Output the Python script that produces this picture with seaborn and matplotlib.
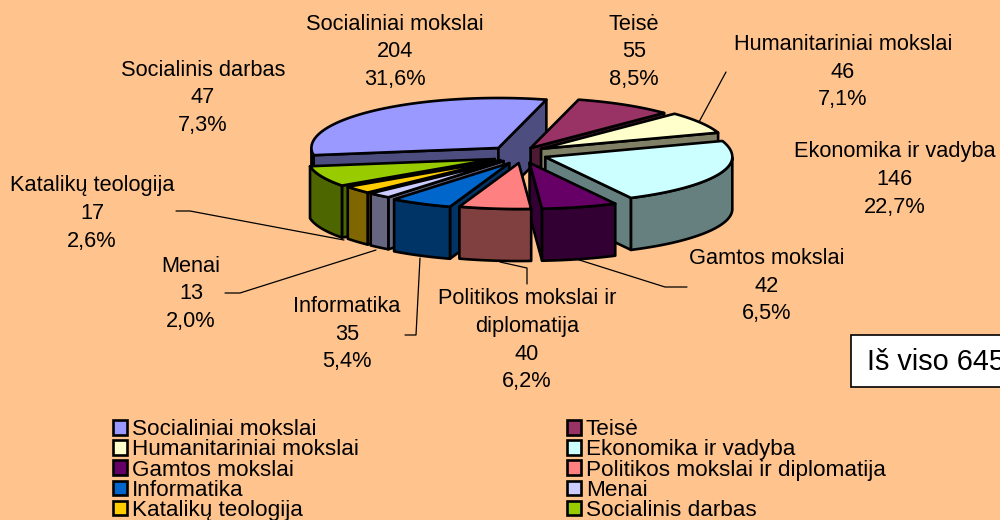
import numpy as np
import pandas as pd
import seaborn as sns
import matplotlib
matplotlib.use("Agg")
import matplotlib.pyplot as plt
from matplotlib.patches import Polygon, Rectangle, Patch

categories = ["Socialiniai mokslai", "Teisė", "Humanitariniai mokslai", "Ekonomika ir vadyba",
              "Gamtos mokslai", "Politikos mokslai ir diplomatija", "Informatika", "Menai",
              "Katalikų teologija", "Socialinis darbas"]
values = [204, 55, 46, 146, 42, 40, 35, 13, 17, 47]
percent_labels = ["31,6%", "8,5%", "7,1%", "22,7%", "6,5%", "6,2%", "5,4%", "2,0%", "2,6%", "7,3%"]
top_colors = ["#9999FF", "#993366", "#FFFFCC", "#CCFFFF", "#660066",
              "#FF8080", "#0066CC", "#CCCCFF", "#FFCC00", "#99CC00"]
total_label = "Iš viso 645"

df = pd.DataFrame({"category": categories, "value": values, "pct": percent_labels})

BG = "#FFC48E"
sns.set_theme(style="white", rc={"figure.facecolor": BG, "axes.facecolor": BG,
                                 "savefig.facecolor": BG, "text.color": "black"})
plt.rcParams["font.family"] = ["Liberation Sans", "DejaVu Sans"]
palette = sns.color_palette(top_colors)

fig = plt.figure(figsize=(10, 5.2), dpi=100)
ax = fig.add_axes([0, 0, 1, 1])
ax.set_xlim(0, 1000)
ax.set_ylim(520, 0)
ax.axis("off")

# projected pie geometry
CX, CY, RX, RY_BACK, RY_FRONT, DEPTH, EXPLODE, TILT = 517.5, 155, 187, 50, 46, 52, 30, 0.27
START = 261.0
LW = 1.9
# small per-slice offsets standing in for the original's perspective
NUDGE = {0: (1, -1), 1: (-2, 0), 2: (-2, -2), 3: (0, -1), 4: (4, 0), 5: (5, 0),
         6: (6, 1), 7: (6, 0), 8: (6, 0), 9: (5, 1)}

fractions = df["value"].to_numpy() / df["value"].sum()
edges = START + np.concatenate([[0], np.cumsum(fractions)]) * 360


def rim(angle):
    t = np.radians(angle)
    c = np.cos(t)
    ry = np.where(c > 0, RY_BACK, RY_FRONT)
    return RX * np.sin(t), -ry * c


def face(ax, pts, color, z):
    ax.add_patch(Polygon(pts, closed=True, facecolor=color, edgecolor="black",
                         linewidth=LW, joinstyle="round", zorder=z))


def draw_slice(i, z):
    a0, a1 = edges[i], edges[i + 1]
    mid = np.radians((a0 + a1) / 2)
    ox = CX + EXPLODE * np.sin(mid) + NUDGE[i][0]
    oy = CY - EXPLODE * TILT * np.cos(mid) + NUDGE[i][1]
    top = palette[i]
    side = tuple(c * 0.5 for c in top)
    th = np.linspace(a0, a1, 80)
    dx, dy = rim(th)
    px, py = ox + dx, oy + dy
    # radial walls
    if np.sin(np.radians(a0)) < 0:
        face(ax, [(ox, oy), (px[0], py[0]), (px[0], py[0] + DEPTH), (ox, oy + DEPTH)], side, z)
    if np.sin(np.radians(a1)) > 0:
        face(ax, [(ox, oy), (px[-1], py[-1]), (px[-1], py[-1] + DEPTH), (ox, oy + DEPTH)], side, z)
    # outer wall, front half only
    front = np.cos(np.radians(th)) < 0
    if front.any():
        fx, fy = px[front], py[front]
        pts = list(zip(fx, fy)) + list(zip(fx[::-1], fy[::-1] + DEPTH))
        face(ax, pts, side, z)
    face(ax, [(ox, oy)] + list(zip(px, py)), top, z + 0.5)


draw_order = [0, 1, 2, 3, 9, 8, 7, 6, 4, 5]
for z, i in enumerate(draw_order):
    draw_slice(i, 3 + z)

# data labels: centre x, first-line y
label_lines = {
    0: (["Socialiniai mokslai"], 395, 24),
    1: (["Teisė"], 634, 24),
    2: (["Humanitariniai mokslai"], 843, 45),
    3: (["Ekonomika ir vadyba"], 895, 152),
    4: (["Gamtos mokslai"], 767, 259),
    5: (["Politikos mokslai ir", "diplomatija"], 527, 299),
    6: (["Informatika"], 347, 307),
    7: (["Menai"], 191, 266),
    8: (["Katalikų teologija"], 92, 186),
    9: (["Socialinis darbas"], 203, 70),
}
LINE = 27.5
for i, (names, x, y) in label_lines.items():
    lines = names + [str(df.value[i]), df.pct[i]]
    for k, s in enumerate(lines):
        ax.text(x, y + k * LINE, s, ha="center", va="center", fontsize=15.7, zorder=30)

seg = [
    ((726, 72), (699, 122)),
    ((176, 211), (190, 211), (344, 240)),
    ((225, 293), (240, 293), (376, 250)),
    ((405, 335), (416, 335), (420, 258)),
    ((500, 262), (527, 268), (527, 284)),
    ((573, 258), (665, 287), (687, 287)),
]
for s in seg:
    xs, ys = zip(*s)
    ax.plot(xs, ys, color="black", lw=0.9, zorder=1)

# total box
ax.add_patch(Rectangle((851, 335), 170, 52, facecolor="white", edgecolor="black", lw=1.2,
                       clip_on=False, zorder=20))
ax.text(867, 362, total_label, ha="left", va="center", fontsize=20.8, zorder=21)

# legend: filled column by column
handles = [Patch(facecolor=palette[i], edgecolor="black", linewidth=1.9, label=categories[i])
           for i in range(10)]
order = [0, 2, 4, 6, 8, 1, 3, 5, 7, 9]
leg = ax.legend([handles[i] for i in order], [categories[i] for i in order], ncol=2,
                loc="lower left", bbox_to_anchor=(0.113, -0.002), frameon=False,
                fontsize=16.2, handlelength=0.62, handleheight=0.62, handletextpad=0.22,
                labelspacing=-0.035, columnspacing=9.25, borderpad=0, borderaxespad=0)

fig.savefig("out.png", dpi=100, facecolor=BG)
